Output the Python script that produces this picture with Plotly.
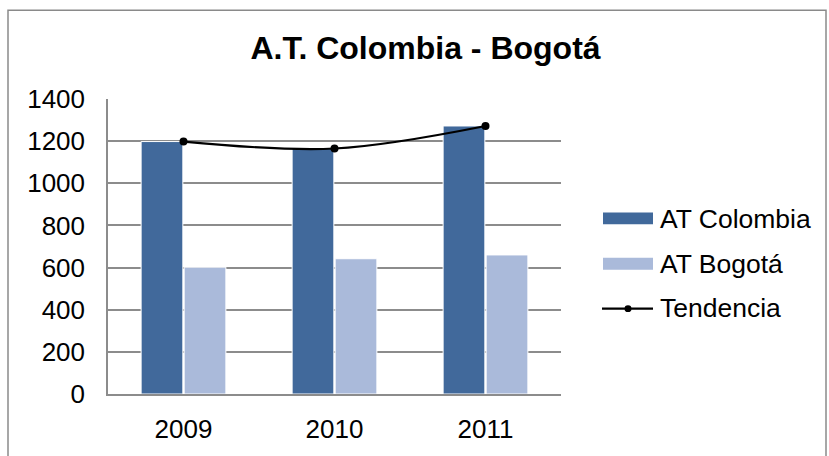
import plotly.graph_objects as go

# Chart data
years = ["2009", "2010", "2011"]
at_colombia = [1198, 1165, 1272]
at_bogota = [602, 642, 660]
tendencia = [1198, 1165, 1272]
y_ticks = [0, 200, 400, 600, 800, 1000, 1200, 1400]

DARK = "#41699B"
LIGHT = "#AABADA"
GRID = "#8C8C8C"
FONT = "Liberation Sans, Arial, sans-serif"

W, H = 829, 456
ML, MR, MT, MB = 108, 268, 99, 58
PW, PH = W - ML - MR, H - MT - MB


def px(x):
    return (x - ML) / PW


def py(y):
    return (H - MB - y) / PH


fig = go.Figure()
fig.add_trace(go.Bar(x=years, y=at_colombia, name="AT Colombia",
                     marker=dict(color=DARK, line=dict(color="white", width=1))))
fig.add_trace(go.Bar(x=years, y=at_bogota, name="AT Bogotá",
                     marker=dict(color=LIGHT, line=dict(color="white", width=1))))
fig.add_trace(go.Scatter(x=years, y=tendencia, name="Tendencia", mode="lines+markers",
                         line=dict(color="black", width=2.2, shape="spline", smoothing=1),
                         marker=dict(color="black", size=8)))

# Legend drawn by hand: wide swatches like the office-style legend
shapes = [
    dict(type="rect", xref="paper", yref="paper", x0=px(603), x1=px(653),
         y0=py(214), y1=py(226), fillcolor=DARK, line=dict(width=0)),
    dict(type="rect", xref="paper", yref="paper", x0=px(603), x1=px(653),
         y0=py(260), y1=py(272), fillcolor=LIGHT, line=dict(width=0)),
    dict(type="line", xref="paper", yref="paper", x0=px(602), x1=px(653),
         y0=py(311.5), y1=py(311.5), line=dict(color="black", width=2.2)),
    dict(type="circle", xref="paper", yref="paper", x0=px(624.5), x1=px(631.5),
         y0=py(308), y1=py(315), fillcolor="black", line=dict(width=0)),
    # outer chart frame
    dict(type="rect", xref="paper", yref="paper", x0=px(8), x1=px(826),
         y0=py(470), y1=py(9), line=dict(color="#8A8A8A", width=1.5)),
]
legend_items = [("AT Colombia", 220.5), ("AT Bogotá", 266), ("Tendencia", 311)]
annotations = [
    dict(text=t, xref="paper", yref="paper", x=px(658), y=py(yc), xanchor="left",
         yanchor="middle", showarrow=False, font=dict(family=FONT, size=26.5, color="black"))
    for t, yc in legend_items
]

fig.update_layout(
    width=W, height=H,
    margin=dict(l=ML, r=MR, t=MT, b=MB, pad=0),
    paper_bgcolor="white", plot_bgcolor="white",
    barmode="group", bargap=0.43, bargroupgap=0.03,
    showlegend=False,
    title=dict(text="<b>A.T. Colombia - Bogotá</b>", x=px(425.5), xref="paper",
               y=1 - 47.5 / H, yref="container", xanchor="center", yanchor="middle",
               font=dict(family=FONT, size=32, color="black")),
    font=dict(family=FONT, size=26, color="black"),
    shapes=shapes,
    annotations=annotations,
)
fig.update_yaxes(range=[0, 1400], tickvals=y_ticks, showgrid=True, gridcolor=GRID,
                 gridwidth=1.5, showline=True, linecolor=GRID, linewidth=1.5,
                 zeroline=False, ticks="", ticklabelstandoff=16,
                 tickfont=dict(family=FONT, size=26, color="black"))
fig.update_xaxes(showline=True, linecolor=GRID, linewidth=1.5, ticks="",
                 ticklabelstandoff=11, tickfont=dict(family=FONT, size=26, color="black"))

fig.write_html("out.html")
